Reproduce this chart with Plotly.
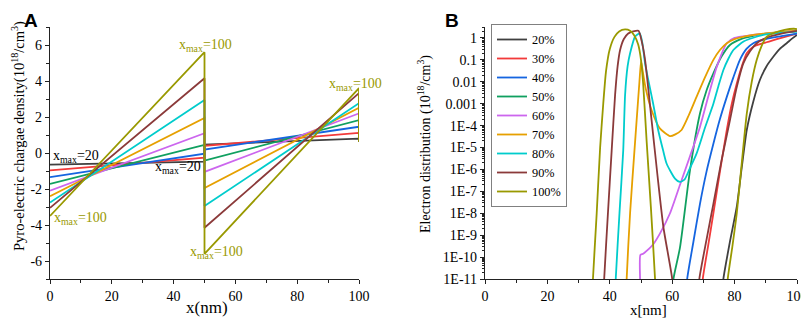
import plotly.graph_objects as go

# ---------------- Panel A data ----------------
labels_a = ["20", "30", "40", "50", "60", "70", "80", "90", "100"]
colors = ["#404040", "#f23a3a", "#1565e0", "#10a060", "#cc66ee",
          "#e6a000", "#00cccc", "#8b3a3a", "#999900"]
a_x = [0, 50, 50, 100, 100]
a_y0 = [-0.65, -0.97, -1.34, -1.72, -2.09, -2.40, -2.75, -3.05, -3.50]      # at x=0
a_y50l = [-0.48, -0.26, -0.04, 0.45, 1.10, 1.95, 2.95, 4.15, 5.60]        # at x=50 (left)
a_y50r = [0.47, 0.40, 0.19, -0.42, -1.05, -1.95, -2.95, -4.15, -5.60]     # at x=50 (right)
a_y100 = [0.80, 1.12, 1.46, 1.83, 2.20, 2.52, 2.77, 3.33, 3.60]          # at x=100
a_tail = [0.62, 0.62, 0.62, 0.62, 0.62, 0.62, 0.62, 0.62, 0.62]          # drop at x=100
a_yticks = [-6, -4, -2, 0, 2, 4, 6]
a_yticktext = ["-6", "-4", "-2", "0", "2", "4", "6"]
x_ticks = [0, 20, 40, 60, 80, 100]

# ---------------- Panel B data (x, log10 value) ----------------
b_names = ["20%", "30%", "40%", "50%", "60%", "70%", "80%", "90%", "100%"]
b_x20 = [76.2, 76.4, 78.5, 80.7, 82.3, 83.9, 86.0, 88.1, 90.2, 92.4, 94.5, 96.7, 98.5, 100]
b_l20 = [-11.5, -11, -9.3, -7.7, -5.9, -4.2, -2.9, -1.92, -1.3, -0.86, -0.5, -0.24, -0.02, 0.14]
b_x30 = [69.7, 69.8, 71.5, 73.2, 75.3, 77.5, 79.1, 80.7, 82.3, 83.9, 86.0, 89.2, 92.0, 95.0, 100]
b_l30 = [-11.5, -11, -9.5, -8.0, -6.1, -4.2, -3.0, -2.08, -1.3, -0.7, -0.4, -0.24, -0.12, 0.0, 0.2]
b_x40 = [64.7, 64.8, 66.8, 68.9, 71.0, 73.2, 75.3, 77.5, 79.6, 81.7, 83.8, 86.0, 90.0, 95.0, 100]
b_l40 = [-11.5, -11, -9.3, -7.57, -6.1, -4.83, -3.7, -2.69, -1.8, -1.0, -0.5, -0.24, -0.05, 0.08, 0.2]
b_x50 = [60.3, 60.4, 62.5, 65.7, 68.9, 71.0, 73.2, 75.8, 78.5, 82.0, 86.0, 90.0, 95.0, 100]
b_l50 = [-11.5, -11, -9.56, -6.04, -3.45, -2.4, -1.62, -0.85, -0.32, -0.05, 0.1, 0.2, 0.27, 0.3]
b_x60 = [49.7, 49.7, 49.8, 50.7, 51.8, 54.0, 56.1, 59.3, 62.5, 65.7, 68.9, 71.6, 74.3, 77.5, 80.0, 85.0, 90.0, 95.0, 100]
b_l60 = [-11.5, -11, -9.9, -9.85, -9.72, -9.4, -8.92, -8.0, -6.7, -5.4, -4.06, -2.65, -1.31, -0.24, 0.0, 0.12, 0.2, 0.27, 0.33]
b_x70 = [45.4, 45.4, 46.5, 47.9, 48.6, 49.5, 50.0, 50.3, 51.5, 53.4, 56.1, 59.3, 61.0, 63.0, 65.4, 67.8, 70.5, 73.2, 75.3, 77.5, 80.0, 85.0, 90.0, 95.0, 100]
b_l70 = [-11.5, -11, -8.0, -5.14, -3.76, -2.0, -1.08, -1.3, -2.3, -3.3, -4.14, -4.48, -4.4, -4.2, -3.5, -2.69, -1.8, -1.0, -0.55, -0.24, -0.05, 0.12, 0.21, 0.28, 0.33]
b_x80 = [41.8, 41.9, 43.1, 44.3, 44.9, 45.7, 46.5, 48.1, 49.6, 50.4, 51.3, 52.6, 53.9, 55.5, 57.1, 58.2, 60.9, 62.5, 64.0, 65.5, 67.8, 70.5, 73.2, 74.8, 76.4, 78.0, 79.6, 83.0, 89.2, 95.0, 100]
b_l80 = [-11.5, -11, -8.0, -5.14, -2.6, -1.3, -0.7, 0.06, 0.21, -0.2, -1.16, -2.1, -3.0, -4.2, -5.14, -5.73, -6.42, -6.57, -6.45, -6.0, -5.28, -4.1, -3.0, -2.2, -1.46, -0.95, -0.55, -0.15, 0.14, 0.24, 0.29]
b_x90 = [38.1, 38.2, 39.4, 40.6, 41.7, 42.5, 43.3, 44.5, 45.9, 47.5, 49.2, 50.3, 51.3, 53.4, 55.3, 57.2, 60.0, 60.1,
         None, 68.6, 68.7, 71.0, 73.2, 75.8, 78.5, 80.6, 82.8, 85.0, 87.1, 90.0, 95.0, 100]
b_l90 = [-11.5, -11, -8.0, -5.14, -2.6, -1.3, -0.55, -0.05, 0.2, 0.3, 0.33, -0.2, -1.0, -3.76, -6.3, -8.65, -11, -11.5,
         None, -11.5, -11, -9.2, -7.57, -5.6, -3.76, -2.3, -1.16, -0.6, -0.24, 0.0, 0.2, 0.32]
b_x100 = [34.5, 34.6, 35.8, 36.9, 37.9, 38.8, 40.0, 41.5, 43.0, 44.9, 46.5, 47.8, 49.1, 50.0, 50.7, 51.8, 53.2, 54.5, 54.6,
          None, 77.7, 77.8, 79.3, 80.7, 82.3, 83.9, 85.5, 87.1, 88.7, 90.3, 93.0, 96.0, 99.0, 100]
b_l100 = [-11.5, -11, -8.0, -5.0, -3.0, -1.5, -0.5, 0.05, 0.3, 0.39, 0.33, 0.12, -0.3, -1.0, -2.1, -4.7, -7.8, -11, -11.5,
          None, -11.5, -11, -9.5, -8.0, -5.7, -3.45, -2.0, -1.0, -0.35, 0.06, 0.25, 0.37, 0.42, 0.4]

b_xs = [b_x20, b_x30, b_x40, b_x50, b_x60, b_x70, b_x80, b_x90, b_x100]
b_ls = [b_l20, b_l30, b_l40, b_l50, b_l60, b_l70, b_l80, b_l90, b_l100]

b_tickvals_exp = list(range(-11, 1))
b_ticktext = ["1E-11", "1E-10", "1E-9", "1E-8", "1E-7", "1E-6", "1E-5", "1E-4",
              "0.001", "0.01", "0.1", "1"]

SERIF = "Liberation Serif"
OFF = 8            # page body margin
W, H = 809 - OFF, 322 - OFF


def px(xp):
    return (xp - OFF) / W


def py(yp):
    return 1 - (yp - OFF) / H


fig = go.Figure()

for i in range(9):
    ys = [a_y0[i], a_y50l[i], a_y50r[i], a_y100[i], a_tail[i]]
    fig.add_trace(go.Scatter(x=a_x, y=ys, mode="lines", xaxis="x", yaxis="y",
                             line=dict(color=colors[i], width=1.8), showlegend=False,
                             hoverinfo="skip"))

for i in range(9):
    vals = [None if v is None else 10 ** v for v in b_ls[i]]
    fig.add_trace(go.Scatter(x=b_xs[i], y=vals, mode="lines", xaxis="x2", yaxis="y2",
                             name=b_names[i], connectgaps=False,
                             line=dict(color=colors[i], width=1.8, shape="spline", smoothing=0.6)))

dom_y = [py(279), py(27)]


def axis_common():
    return dict(showline=True, linecolor="#222", linewidth=1.3, ticks="outside",
                ticklen=4, tickcolor="#222", tickwidth=1.2, showgrid=False,
                zeroline=False, mirror=False, automargin=False,
                tickfont=dict(family=SERIF, size=14, color="black"))


fig.update_layout(
    template="none",
    font=dict(family=SERIF, size=14, color="black"),
    width=W, height=H, margin=dict(l=0, r=0, t=0, b=0, pad=0),
    paper_bgcolor="white", plot_bgcolor="white",
    xaxis=dict(domain=[px(50), px(359)], range=[0, 100], tickvals=x_ticks,
               minor=dict(ticks="outside", ticklen=3, dtick=10, tickcolor="#222"),
               anchor="y", **axis_common()),
    yaxis=dict(domain=dom_y, range=[-7, 7], tickvals=a_yticks, ticktext=a_yticktext,
               minor=dict(ticks="outside", ticklen=3, dtick=1, tickcolor="#222"),
               anchor="x", **axis_common()),
    xaxis2=dict(domain=[px(485), px(797)], range=[0, 100], tickvals=x_ticks,
                minor=dict(ticks="outside", ticklen=3, dtick=10, tickcolor="#222"),
                anchor="y2", **axis_common()),
    yaxis2=dict(domain=dom_y, type="log", range=[-11, 0.5],
                tickvals=[10 ** e for e in b_tickvals_exp], ticktext=b_ticktext,
                minor=dict(ticks="outside", ticklen=2, dtick="D1", tickcolor="#222"),
                anchor="x2", **axis_common()),
    legend=dict(x=px(491), y=py(24), xanchor="left", yanchor="top",
                bgcolor="white", bordercolor="#808080", borderwidth=1,
                font=dict(family=SERIF, size=12.3, color="black"), itemwidth=30,
                tracegroupgap=0),
    showlegend=True,
)

ann = []
olive = "#999900"


def lab(x, y, text, color, xanchor="center"):
    ann.append(dict(x=x, y=y, xref="x", yref="y", text=text, showarrow=False,
                    xanchor=xanchor, yanchor="middle",
                    font=dict(family=SERIF, size=14, color=color)))


lab(50.2, 5.95, "x<sub>max</sub>=100", olive)
lab(0.3, -0.2, "x<sub>max</sub>=20", "black", "left")
lab(49.5, -0.8, "x<sub>max</sub>=20", "black", "right")
lab(0.5, -3.66, "x<sub>max</sub>=100", olive, "left")
lab(53.8, -5.55, "x<sub>max</sub>=100", olive)
lab(99.0, 3.79, "x<sub>max</sub>=100", olive)
lab(102.0, 0.34, "x<sub>max</sub>=20", "black")

fig.update_layout(annotations=ann)


def ptext(xp, yp, text, size, angle=0, family=SERIF, bold=False, yanchor="middle"):
    fig.add_annotation(x=px(xp), y=py(yp), xref="paper", yref="paper",
                       text=("<b>%s</b>" % text) if bold else text, showarrow=False,
                       textangle=angle, xanchor="center", yanchor=yanchor,
                       borderpad=0,
                       font=dict(family=family, size=size, color="black"))


ptext(207, 307, "x(nm)", 17)
ptext(648, 310, "x[nm]", 15)
ptext(18, 136, "Pyro-electric chargae density(10<sup>18</sup>/cm<sup>3</sup>)", 14.5, -90)
ptext(424, 144, "Electron distribution (10<sup>18</sup>/cm<sup>3</sup>)", 14, -90)
ptext(31, 8.5, "A", 19, 0, "Liberation Sans", True, "top")
ptext(452, 8.5, "B", 19, 0, "Liberation Sans", True, "top")

fig.write_html("out.html")
